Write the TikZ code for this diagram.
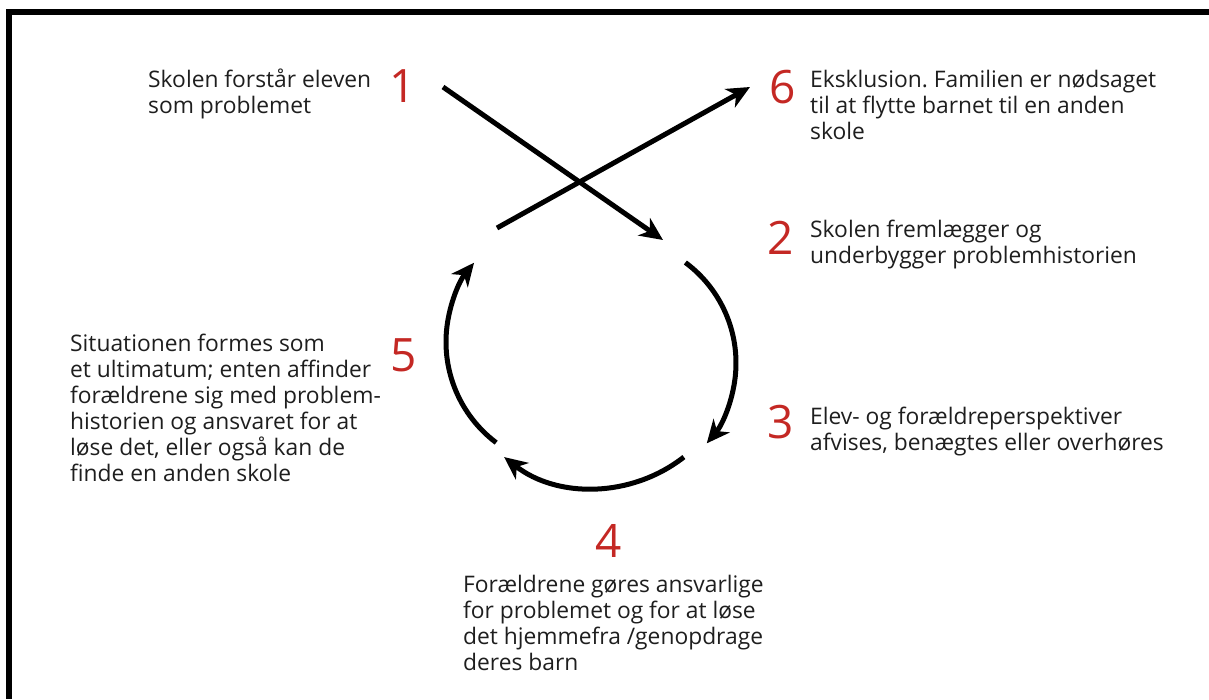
\documentclass[tikz,border=0pt]{standalone}
\usepackage{fontspec}
\setmainfont{Open Sans}
\usetikzlibrary{arrows.meta,calc}
\definecolor{numred}{RGB}{196,40,36}
\definecolor{txt}{RGB}{30,30,30}
\frenchspacing
\begin{document}
\begin{tikzpicture}[x=1pt,y=1pt,
  lbl/.style={inner sep=0pt, anchor=base west, align=left, text=txt,
    font=\fontsize{22.8}{26}\selectfont},
  num/.style={inner sep=0pt, text=numred, font=\fontsize{46}{46}\selectfont},
  arr/.style={line width=5pt, -{Stealth[length=23pt,width=21pt,inset=7pt]}}]
\useasboundingbox (0,0) rectangle (1209,-699);
% frame
\fill[black] (6,-9) rectangle (1209,-15);
\fill[black] (6,-9) rectangle (12,-699);
% texts (base anchor = baseline of the last line)
\node[lbl] (t1) at (148,-113.5) {Skolen forstår eleven\\som problemet};
\node[lbl] (t6) at (810,-139) {Eksklusion. Familien er nødsaget\\til at flytte barnet til en anden\\skole};
\node[lbl] (t2) at (810,-263) {Skolen fremlægger og\\underbygger problemhistorien};
\node[lbl] (t3) at (810,-450) {Elev- og forældreperspektiver\\afvises, benægtes eller overhøres};
\node[lbl] (t4) at (463,-670) {Forældrene gøres ansvarlige\\for problemet og for at løse\\det hjemmefra /genopdrage\\deres barn};
\node[lbl] (t5) at (70,-481) {Situationen formes som\\et ultimatum; enten affinder\\forældrene sig med problem-\\historien og ansvaret for at\\løse det, eller også kan de\\finde en anden skole};
% numbers
\node[num] (n1) at (403,-86) {1};
\node[num] (n6) at (783,-87) {6};
\node[num] (n2) at (781,-238) {2};
\node[num] (n3) at (781,-422) {3};
\node[num] (n4) at (609,-541) {4};
\node[num] (n5) at (404,-355) {5};
% straight arrows
\coordinate (s1) at (443,-87);
\coordinate (e1) at (663,-240);
\coordinate (s2) at (497,-228);
\coordinate (e2) at (750,-87);
\draw[arr] (s1) -- (e1);
\draw[arr] (s2) -- (e2);
% circle arcs
\coordinate (cr) at (611,-363);
\coordinate (cb) at (594,-342);
\coordinate (cl) at (572,-342);
\coordinate (ar) at ($(cr)+(53.5:125)$);
\coordinate (ab) at ($(cb)+(-52:146)$);
\coordinate (al) at ($(cl)+(233:126)$);
\draw[arr] (ar) arc[start angle=53.5, end angle=-40, radius=125];
\draw[arr] (ab) arc[start angle=-52, end angle=-128, radius=146];
\draw[arr] (al) arc[start angle=233, end angle=141, radius=126];
\end{tikzpicture}
\end{document}
